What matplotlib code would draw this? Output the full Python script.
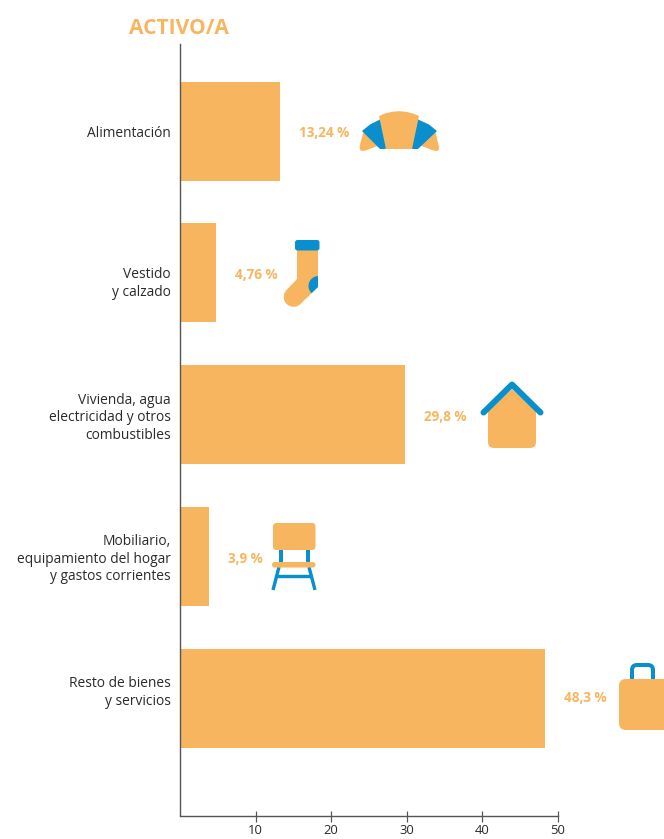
import matplotlib
matplotlib.use("Agg")
import matplotlib.pyplot as plt
from matplotlib.patches import FancyBboxPatch, Polygon, Circle, PathPatch
from matplotlib.path import Path
from matplotlib.transforms import ScaledTranslation

categories = ["Alimentación", "Vestido\ny calzado",
              "Vivienda, agua\nelectricidad y otros\ncombustibles",
              "Mobiliario,\nequipamiento del hogar\ny gastos corrientes",
              "Resto de bienes\ny servicios"]
values = [13.24, 4.76, 29.8, 3.9, 48.3]
value_labels = ["13,24 %", "4,76 %", "29,8 %", "3,9 %", "48,3 %"]
xticks = [10, 20, 30, 40, 50]
title = "ACTIVO/A"

ORANGE = "#F8B55F"
BLUE = "#0A8FCE"
TEXT = "#2A2A2A"
AXIS = "#555555"
W, H = 664, 839
PX = 72 / 100  # points per pixel at dpi 100
STEP = 141.75
plt.rcParams["font.family"] = ["Open Sans", "DejaVu Sans"]

fig = plt.figure(figsize=(W / 100, H / 100), dpi=100)
ax = fig.add_axes([180 / W, 1 - 815.5 / H, (W - 180) / W, (815.5 - 44) / H])
ax.set_xlim(0, (W - 180) / 7.55)
ax.set_ylim(4 + (815.5 - 698.2) / STEP, -(131.2 - 44) / STEP)
y = list(range(len(values)))
ax.barh(y, values, height=99 / STEP, color=ORANGE, linewidth=0)

for s in ("top", "right"):
    ax.spines[s].set_visible(False)
ax.spines["bottom"].set_bounds(0, 50)
for s in ("left", "bottom"):
    ax.spines[s].set_linewidth(1.4 * PX)
    ax.spines[s].set_color(AXIS)
ax.set_xticks(xticks)
ax.tick_params(axis="x", direction="inout", length=11 * PX, width=1.2 * PX,
               color=AXIS, labelsize=13 * PX, labelcolor=TEXT, pad=2)
ax.set_yticks(y)
ax.set_yticklabels(categories, fontsize=13.8 * PX, color=TEXT, linespacing=1.21, ha="right")
ax.tick_params(axis="y", length=0, pad=9 * PX)
label_nudge_px = [0.5, 7.5, 0, -0.5, -9]
for lab, d in zip(ax.get_yticklabels(), label_nudge_px):
    lab.set_transform(lab.get_transform() + ScaledTranslation(0, -d / 100, fig.dpi_scale_trans))

value_nudge_px = [1.5, 2, 2.5, 2.5, -0.5]
for yi, v, t, d in zip(y, values, value_labels, value_nudge_px):
    ax.annotate(t, (v, yi), xytext=(19 * PX, -d * PX), textcoords="offset points",
                va="center", ha="left", color=ORANGE, fontsize=13.5 * PX, fontweight="bold")

fig.text(129 / W, 1 - 28 / H, title, color=ORANGE, fontsize=21 * PX, fontweight="bold",
         ha="left", va="center")

# pictogram overlay in pixel coordinates
ov = fig.add_axes([0, 0, 1, 1], facecolor="none")
ov.set_xlim(0, W)
ov.set_ylim(H, 0)
ov.axis("off")

def rrect(x0, y0, x1, y1, r, color, z=3):
    ov.add_patch(FancyBboxPatch((x0 + r, y0 + r), x1 - x0 - 2 * r, y1 - y0 - 2 * r,
                                boxstyle=f"round,pad={r},rounding_size={r}",
                                fc=color, ec="none", zorder=z))

def poly(pts, color, z=3):
    p = Polygon(pts, closed=True, fc=color, ec="none", zorder=z)
    ov.add_patch(p)
    return p

def line(xs, ys, color, lw, z=4, cap="round"):
    ov.plot(xs, ys, color=color, lw=lw * PX, solid_capstyle=cap, solid_joinstyle="round", zorder=z)

# croissant
poly([(364, 130), (380, 145), (367, 150), (363.5, 151), (360.5, 150.5), (359.5, 147), (361, 141)], ORANGE)
poly([(435, 130), (419, 145), (432, 150), (435.5, 151), (438.5, 150.5), (439, 147), (437.5, 141)], ORANGE)
poly([(362, 131), (370, 124.5), (381, 119), (389, 147), (385, 149), (380, 149)], BLUE, 4)
poly([(437, 131), (429, 124.5), (417, 119), (409, 147), (413, 149), (418, 149)], BLUE, 4)
poly([(379, 116), (385, 113.5), (392, 111.8), (399, 111.2), (406, 111.8), (413, 113.5), (419, 116),
      (412, 149), (386, 149)], ORANGE, 5)

# sock
leg = Path([(297, 250), (318, 250), (318, 287), (300.4, 304), (286.6, 290), (297, 279), (297, 250)])
ov.add_patch(PathPatch(leg, fc=ORANGE, ec="none", zorder=3))
ov.add_patch(Circle((293.5, 297), 9.8, fc=ORANGE, ec="none", zorder=3))
heel = Circle((318.5, 286), 10, fc=BLUE, ec="none", zorder=4)
ov.add_patch(heel)
heel.set_clip_path(PathPatch(leg, transform=ov.transData))
rrect(295, 240, 319.5, 250.5, 2.5, BLUE, 5)

# house
poly([(512, 389), (536, 411), (536, 430), (488, 430), (488, 411)], ORANGE)
rrect(488, 415, 536, 448, 6, ORANGE)
line([483.5, 512, 540.5], [412.5, 384.5, 412.5], BLUE, 6)

# chair
line([281, 281], [549, 563], BLUE, 4, 2, "butt")
line([308, 308], [549, 563], BLUE, 4, 2, "butt")
line([279, 273], [567, 590], BLUE, 3.4, 2, "butt")
line([309, 315], [567, 590], BLUE, 3.4, 2, "butt")
line([277, 311], [575.5, 575.5], BLUE, 3.4, 2, "butt")
rrect(273, 523, 315.5, 550, 3.5, ORANGE)
rrect(272, 562, 315.5, 567.5, 2.7, ORANGE)

# bag
ov.add_patch(FancyBboxPatch((637, 670), 11, 30, boxstyle="round,pad=5,rounding_size=5",
                            fc="none", ec=BLUE, lw=4 * PX, zorder=2))
rrect(619, 679, 680, 730, 7, ORANGE)

fig.savefig("out.png", dpi=100)
